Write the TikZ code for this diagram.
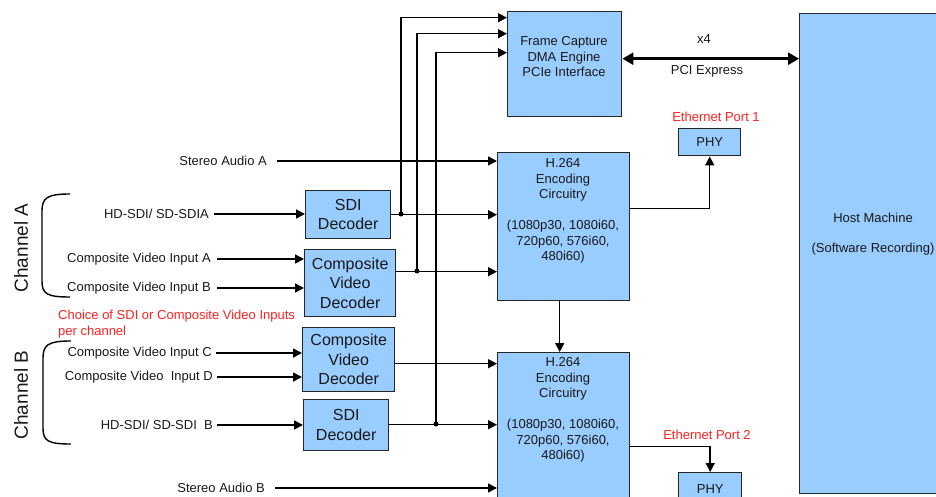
\documentclass[tikz,border=0pt]{standalone}
\usepackage{fontspec}
\setmainfont{Liberation Sans}
\usetikzlibrary{arrows.meta}
\definecolor{boxblue}{HTML}{99CCFF}
\definecolor{notered}{HTML}{FF2020}
\begin{document}
\begin{tikzpicture}[x=1pt,y=-1pt,
  box/.style={draw=black!85, line width=1.4pt, fill=boxblue, inner sep=0pt, anchor=north west},
  arr/.style={line width=1.5pt, -{Triangle[length=9pt,width=9pt]}},
  pci/.style={line width=3.5pt, {Triangle[length=11pt,width=12pt]}-{Triangle[length=11pt,width=12pt]}},
  brk/.style={line width=1.4pt},
  lbl/.style={font=\fontsize{13}{15.5}\selectfont, inner sep=1pt, text=black!90},
  big/.style={font=\fontsize{16}{19.5}\selectfont, align=center, text=black!90},
  redtxt/.style={font=\fontsize{13}{16}\selectfont, inner sep=1pt, text=notered},
  jdot/.style={circle, fill=black, inner sep=0pt, minimum size=5pt}]
\useasboundingbox (0,0) rectangle (936,497);
\clip (0,0) rectangle (936,497);

% main blocks
\node[box, minimum width=114pt, minimum height=105pt] (fc) at (507,11) {};
\node[lbl, align=center] (fctext) at (564,57) {Frame Capture\\DMA Engine\\PCIe Interface};
\node[box, minimum width=150pt, minimum height=480pt] (host) at (799,13) {};
\node[lbl, align=center] (hosttext) at (873,234) {Host Machine\\[15pt](Software Recording)};
\node[box, lbl, minimum width=62pt, minimum height=27pt] (phy1) at (678,128) {PHY};
\node[box, lbl, minimum width=63pt, minimum height=32pt] (phy2) at (678,472) {PHY};
\node[redtxt] (eth1) at (716,117) {Ethernet Port 1};
\node[redtxt] (eth2) at (707,435) {Ethernet Port 2};

\node[box, minimum width=132pt, minimum height=148pt] (encA) at (497,152) {};
\node[lbl, align=center] (encAtext) at (563,211) {H.264\\Encoding\\Circuitry\\[15.5pt](1080p30, 1080i60,\\720p60, 576i60,\\480i60)};
\node[box, minimum width=132pt, minimum height=160pt] (encB) at (497,352) {};
\node[lbl, align=center] (encBtext) at (563,410) {H.264\\Encoding\\Circuitry\\[15.5pt](1080p30, 1080i60,\\720p60, 576i60,\\480i60)};

% decoders
\node[box, big, minimum width=85pt, minimum height=48pt] (sdiA) at (305,190) {SDI\\Decoder};
\node[box, big, minimum width=91pt, minimum height=67pt] (cvdA) at (304,249) {Composite\\Video\\Decoder};
\node[box, big, minimum width=92pt, minimum height=64pt] (cvdB) at (302,327) {Composite\\Video\\Decoder};
\node[box, big, minimum width=85pt, minimum height=51pt] (sdiB) at (303,399) {SDI\hspace{16pt}\\Decoder};

% input labels
\node[lbl, anchor=east] (inHA) at (210,214) {HD-SDI/ SD-SDIA};
\node[lbl, anchor=east] (inCA) at (212,259) {Composite Video Input A};
\node[lbl, anchor=east] (inCB) at (212,288) {Composite Video Input B};
\node[lbl, anchor=east] (inCC) at (213,353) {Composite Video Input C};
\node[lbl, anchor=east] (inCD) at (214,377) {Composite Video\ \ Input D};
\node[lbl, anchor=east] (inHB) at (214,425) {HD-SDI/ SD-SDI\ \ B};
\node[lbl, anchor=east] (audA) at (268,161) {Stereo Audio A};
\node[lbl, anchor=east] (audB) at (266,488) {Stereo Audio B};

\node[redtxt, anchor=west, align=left] (note) at (57,324) {Choice of SDI or Composite Video Inputs\\per channel};

% channel labels and brackets
\node[rotate=90, font=\fontsize{19}{22}\selectfont, text=black!90] (chA) at (21,248) {Channel A};
\node[rotate=90, font=\fontsize{19}{22}\selectfont, text=black!90] (chB) at (21,395) {Channel B};
\draw[brk] (70,194) .. controls (47,194) and (42,198) .. (42,211) -- (42,281) .. controls (42,294) and (47,297) .. (70,297);
\draw[brk] (71,341) .. controls (48,341) and (43,345) .. (43,358) -- (43,428) .. controls (43,441) and (48,444) .. (71,444);

% inputs
\draw[arr] ([xshift=4pt]inHA.east) -- (inHA.east -| sdiA.west);
\draw[arr] ([xshift=5pt]inCA.east) -- (inCA.east -| cvdA.west);
\draw[arr] ([xshift=5pt]inCB.east) -- (inCB.east -| cvdA.west);
\draw[arr] ([xshift=3pt]inCC.east) -- (inCC.east -| cvdB.west);
\draw[arr] ([xshift=3pt]inCD.east) -- (inCD.east -| cvdB.west);
\draw[arr] ([xshift=3pt]inHB.east) -- (inHB.east -| sdiB.west);
\draw[arr] ([xshift=9pt]audA.east) -- (audA.east -| encA.west);
\draw[arr] ([xshift=9pt]audB.east) -- (audB.east -| encB.west);

% decoder outputs
\draw[arr] (sdiA.east) -- (sdiA.east -| encA.west);
\draw[arr] ([yshift=11.5pt]cvdA.east) coordinate (oCA) -- (oCA -| encA.west);
\draw[arr] ([yshift=-4pt]cvdB.east) coordinate (oCB) -- (oCB -| encB.west);
\draw[arr] ([yshift=0.5pt]sdiB.east) coordinate (oSB) -- (oSB -| encB.west);

% bus to frame capture
\coordinate (jA) at (401,214);
\coordinate (jB) at (417,271);
\coordinate (jC) at (436,424);
\node[jdot] at (jA) {};
\node[jdot] at (jB) {};
\node[jdot] at (jC) {};
\draw[arr] (jA) |- ([yshift=46.5pt]fc.west);
\draw[arr] (jB) |- ([yshift=30.5pt]fc.west);
\draw[arr] (jC) |- ([yshift=11.5pt]fc.west);

% encoders
\draw[arr] ([xshift=-4pt]encA.south) -- ([xshift=-4pt]encB.north);
\draw[arr] ([yshift=18pt]encA.east) -| (phy1.south);
\draw[arr] ([yshift=-14pt]encB.east) -| (phy2.north);

% PCI Express
\draw[pci] ([yshift=5.5pt]fc.east) coordinate (p1) -- (p1 -| host.west);
\node[lbl] (x4) at (704,39) {x4};
\node[lbl] (pcie) at (707,71) {PCI Express};
\end{tikzpicture}
\end{document}
